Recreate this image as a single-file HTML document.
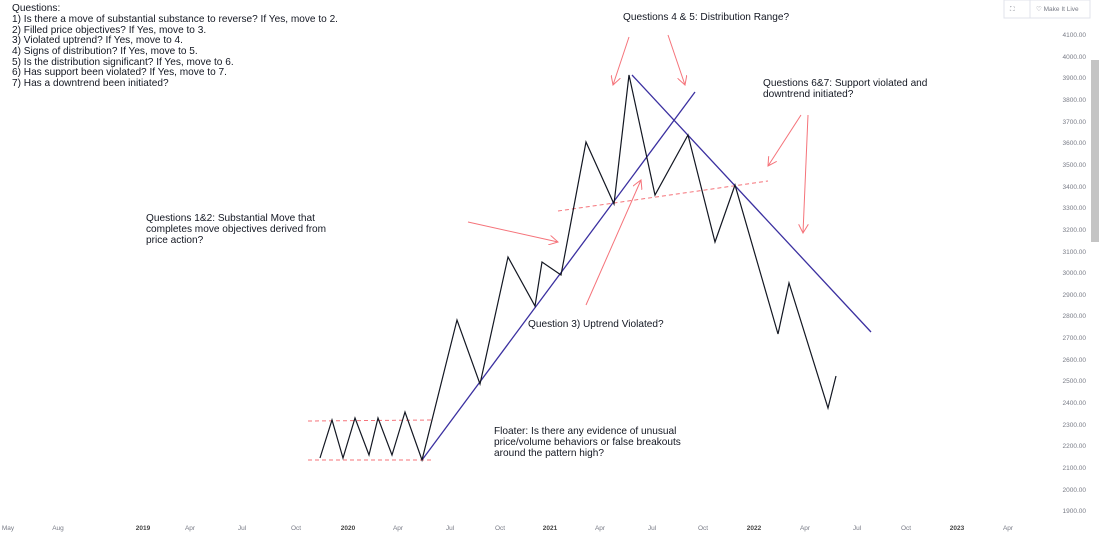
<!DOCTYPE html>
<html><head><meta charset="utf-8"><style>
body{margin:0;width:1100px;height:536px;background:#fff;overflow:hidden;font-family:"Liberation Sans",sans-serif}
svg{position:absolute;left:0;top:0}
.t{font-size:10.1px;fill:#131722}
.ax{font-size:6.5px;fill:#787b86}
</style></head><body>
<svg width="1100" height="536" xmlns="http://www.w3.org/2000/svg">
<defs><marker id="ar" markerWidth="10" markerHeight="10" refX="9" refY="5" orient="auto" markerUnits="userSpaceOnUse"><path d="M0,0 L9,5 L0,10" fill="none" stroke="#f5737a" stroke-width="1"/></marker></defs>
<rect x="1004" y="0" width="86" height="18" fill="#fff" stroke="#e0e3eb"/>
<line x1="1030" y1="0" x2="1030" y2="18" stroke="#e0e3eb"/>
<text x="1010" y="11" class="ax" font-size="8">⛶</text>
<text x="1036" y="11" class="ax" font-size="7.5" fill="#555">♡ Make It Live</text>
<rect x="1091" y="60" width="8" height="182" fill="#c4c4c4"/>
<g class="ax" text-anchor="end">
<text x="1086" y="37">4100.00</text><text x="1086" y="59">4000.00</text><text x="1086" y="80">3900.00</text><text x="1086" y="102">3800.00</text><text x="1086" y="124">3700.00</text><text x="1086" y="145">3600.00</text><text x="1086" y="167">3500.00</text><text x="1086" y="189">3400.00</text><text x="1086" y="210">3300.00</text><text x="1086" y="232">3200.00</text><text x="1086" y="254">3100.00</text><text x="1086" y="275">3000.00</text><text x="1086" y="297">2900.00</text><text x="1086" y="318">2800.00</text><text x="1086" y="340">2700.00</text><text x="1086" y="362">2600.00</text><text x="1086" y="383">2500.00</text><text x="1086" y="405">2400.00</text><text x="1086" y="427">2300.00</text><text x="1086" y="448">2200.00</text><text x="1086" y="470">2100.00</text><text x="1086" y="492">2000.00</text><text x="1086" y="513">1900.00</text>
</g>
<g class="ax" text-anchor="middle">
<text x="8" y="530">May</text><text x="58" y="530">Aug</text><text x="143" y="530" font-weight="bold" fill="#444">2019</text><text x="190" y="530">Apr</text><text x="242" y="530">Jul</text><text x="296" y="530">Oct</text><text x="348" y="530" font-weight="bold" fill="#444">2020</text><text x="398" y="530">Apr</text><text x="450" y="530">Jul</text><text x="500" y="530">Oct</text><text x="550" y="530" font-weight="bold" fill="#444">2021</text><text x="600" y="530">Apr</text><text x="652" y="530">Jul</text><text x="703" y="530">Oct</text><text x="754" y="530" font-weight="bold" fill="#444">2022</text><text x="805" y="530">Apr</text><text x="857" y="530">Jul</text><text x="906" y="530">Oct</text><text x="957" y="530" font-weight="bold" fill="#444">2023</text><text x="1008" y="530">Apr</text>
</g>
<g stroke="#f5737a" stroke-dasharray="4,3" stroke-width="1">
<line x1="308" y1="421" x2="434" y2="420"/><line x1="308" y1="460" x2="434" y2="460"/><line x1="558" y1="211" x2="768" y2="181"/>
</g>
<g stroke="#3b30a0" stroke-width="1.3">
<line x1="422" y1="460" x2="695" y2="92"/><line x1="632" y1="75" x2="871" y2="332"/>
</g>
<polyline fill="none" stroke="#131722" stroke-width="1.2" points="320,458 332,420 343,458 355,418 369,455 378,418 392,455 405,412 422,460 457,320 480,384 508,257 535,306 542,262 561,275 586,142 614,204 629,75 655,195 688,135 715,242 735,185 778,334 789,283 828,408 836,376"/>
<g stroke="#f5737a" stroke-width="1" marker-end="url(#ar)">
<line x1="468" y1="222" x2="558" y2="242"/><line x1="629" y1="37" x2="613" y2="85"/><line x1="668" y1="35" x2="685" y2="85"/><line x1="586" y1="305" x2="641" y2="180"/><line x1="801" y1="115" x2="768" y2="166"/><line x1="808" y1="115" x2="803" y2="233"/>
</g>
<g class="t">
<text x="12" y="11">Questions:</text>
<text x="12" y="22">1) Is there a move of substantial substance to reverse? If Yes, move to 2.</text>
<text x="12" y="33">2) Filled price objectives? If Yes, move to 3.</text>
<text x="12" y="43">3) Violated uptrend? If Yes, move to 4.</text>
<text x="12" y="54">4) Signs of distribution? If Yes, move to 5.</text>
<text x="12" y="65">5) Is the distribution significant? If Yes, move to 6.</text>
<text x="12" y="75">6) Has support been violated? If Yes, move to 7.</text>
<text x="12" y="86">7) Has a downtrend been initiated?</text>
<text x="623" y="20">Questions 4 &amp; 5: Distribution Range?</text>
<text x="763" y="86">Questions 6&amp;7: Support violated and</text>
<text x="763" y="97">downtrend initiated?</text>
<text x="146" y="221">Questions 1&amp;2: Substantial Move that</text>
<text x="146" y="232">completes move objectives derived from</text>
<text x="146" y="243">price action?</text>
<text x="528" y="327">Question 3) Uptrend Violated?</text>
<text x="494" y="434">Floater: Is there any evidence of unusual</text>
<text x="494" y="445">price/volume behaviors or false breakouts</text>
<text x="494" y="456">around the pattern high?</text>
</g>
</svg>
</body></html>
